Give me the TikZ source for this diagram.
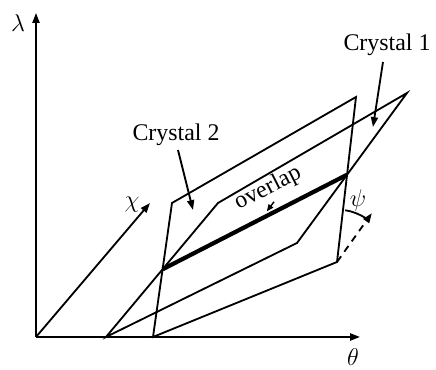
\documentclass[tikz,border=0pt]{standalone}
\usepackage{amsmath,amssymb}
\usepackage{fontspec}
\setmainfont{Liberation Serif}
\usepackage{tikz}
\usetikzlibrary{calc,positioning,arrows.meta}

\tikzset{
  edge/.style={line width=1.3pt,line join=miter},
  tip/.style={-{Triangle[length=7pt,width=5pt]}},
  lbl/.style={font=\fontsize{17}{20}\selectfont,inner sep=1pt}
}

\begin{document}
\begin{tikzpicture}[scale=1.0]
  \useasboundingbox (-0.9,-0.825) rectangle (10.0,8.425);
  % axes
  \coordinate (O) at (0,0);
  \coordinate (Lt) at (0,8.1);
  \coordinate (Tt) at (8.1,0);
  \coordinate (Ct) at (2.85,3.35);
  % crystal 1
  \coordinate (A) at (1.75,0);
  \coordinate (B) at (6.525,2.35);
  \coordinate (C) at (9.275,6.1);
  \coordinate (D) at (4.55,3.35);
  % crystal 2
  \coordinate (E) at (2.925,0);
  \coordinate (F) at (7.525,1.875);
  \coordinate (G) at (8.0,6.0);
  \coordinate (H) at (3.4,3.35);
  \coordinate (P) at (intersection of A--D and E--H);
  \coordinate (Q) at (intersection of B--C and F--G);
  \draw[edge,tip] (O)--(Lt);
  \draw[edge,tip] (O)--(Tt);
  \draw[edge,tip] (O)--(Ct);
  \draw[edge] (A)--(B)--(C)--(D)--cycle;
  \draw[edge] (E)--(F)--(G)--(H)--cycle;
  \draw[line width=3pt] (P)--(Q);
  % rotation psi
  \coordinate (Fd) at ($(F)+(54.5:1.5)$);
  \draw[edge,dashed,dash pattern=on 5pt off 4pt,tip] (F)--(Fd);
  \draw[edge] ($(F)+(81:1.31)$) arc (81:57:1.31);
  % labels
  \node[lbl] (lam) at (-0.45,7.85) {$\lambda$};
  \node[lbl] (the) at (7.925,-0.5) {$\theta$};
  \node[lbl] (chi) at (2.4,3.3) {$\chi$};
  \node[lbl] (psi) at (8.05,3.425) {$\psi$};
  \node[lbl] (cry1) at (8.775,7.3) {Crystal 1};
  \node[lbl] (cry2) at (3.5,5.05) {Crystal 2};
  \node[lbl,rotate=27] (ovl) at (5.8,3.71) {overlap};
  \coordinate (c1t) at (8.425,5.25);
  \coordinate (c2t) at (3.925,3.175);
  \coordinate (ovt) at (5.77,3.14);
  \draw[edge,tip] (8.675,6.875)--(c1t);
  \draw[edge,tip] (3.55,4.675)--(c2t);
  \draw[line width=1pt,-{Triangle[length=5pt,width=4pt]}] (5.95,3.38)--(ovt);
\end{tikzpicture}
\end{document}
